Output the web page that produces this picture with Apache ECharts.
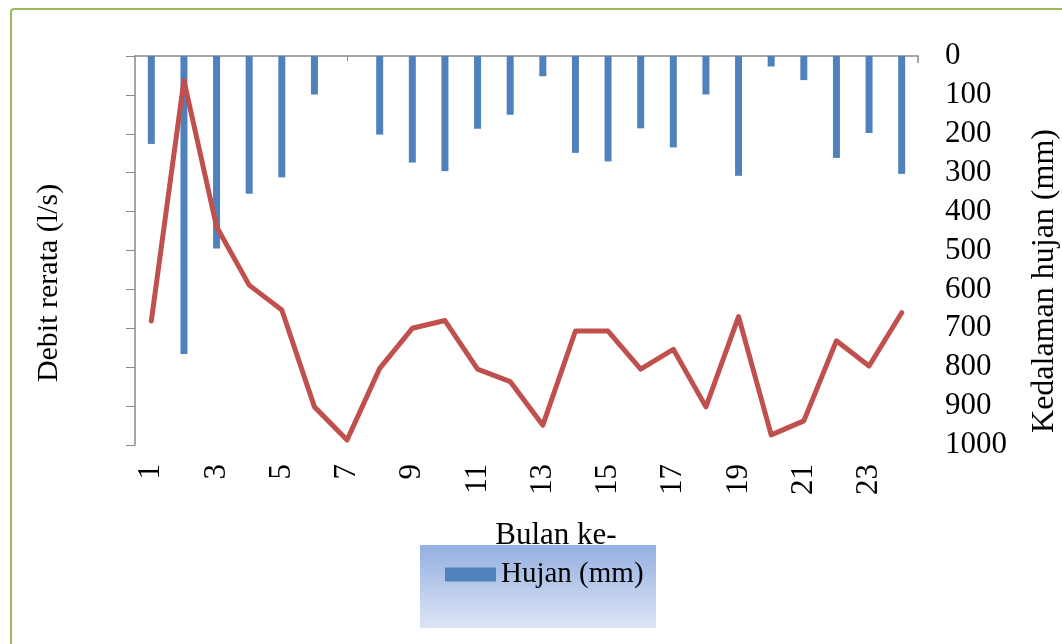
<!DOCTYPE html>
<html>
<head>
<meta charset="utf-8">
<script src="https://cdn.jsdelivr.net/npm/echarts@6/dist/echarts.min.js"></script>
<style>html,body{margin:0;padding:0;background:#fff;}#c{width:1062px;height:644px;}</style>
</head>
<body>
<div id="c"></div>
<script>
const categories = ['1','2','3','4','5','6','7','8','9','10','11','12','13','14','15','16','17','18','19','20','21','22','23','24'];
const hujan = [226,766,495,354,312,99,0,202,274,296,187,151,52,249,271,186,235,99,308,27,62,262,198,303];
const debit = [31.9,93.7,56.1,41.1,34.7,9.8,1.3,19.7,30.0,32.0,19.5,16.3,5.1,29.3,29.3,19.5,24.6,9.8,33.0,2.6,6.2,26.8,20.3,34.0];
const rightTicks = [0,100,200,300,400,500,600,700,800,900,1000];
const xTitle = 'Bulan ke-';
const leftTitle = 'Debit rerata (l/s)';
const rightTitle = 'Kedalaman hujan (mm)';

const FONT = '"Liberation Serif","Times New Roman",serif';
const chart = echarts.init(document.getElementById('c'));
chart.setOption({
  animation: false,
  backgroundColor: '#fff',
  textStyle: {fontFamily: FONT},
  grid: {left: 135, top: 56, width: 783, height: 389},
  graphic: [
    {type: 'rect', shape: {x: 11, y: 9, width: 1060, height: 640, r: 3}, style: {fill: 'none', stroke: '#9bbb59', lineWidth: 2}, z: -10},
    {type: 'rect', shape: {x: 420, y: 545, width: 236, height: 83}, style: {fill: new echarts.graphic.LinearGradient(0,0,0,1,[{offset:0,color:'#94afe0'},{offset:1,color:'#dde5f5'}])}, z: 1},
    {type: 'line', shape: {x1: 918, y1: 56, x2: 918, y2: 63}, style: {stroke: '#898989', lineWidth: 1.5}, z: 5},
    {type: 'text', x: 556, y: 536, style: {text: xTitle, font: '31px ' + FONT, fill: '#000', align: 'center', verticalAlign: 'middle'}, z: 5},
    {type: 'text', x: 49, y: 283, rotation: Math.PI / 2, style: {text: leftTitle, font: '30px ' + FONT, fill: '#000', align: 'center', verticalAlign: 'middle'}, z: 5},
    {type: 'text', x: 1045, y: 281, rotation: Math.PI / 2, style: {text: rightTitle, font: '32px ' + FONT, fill: '#000', align: 'center', verticalAlign: 'middle'}, z: 5}
  ],
  legend: {
    data: [{name: 'Hujan (mm)', icon: 'rect'}],
    left: 440, top: 555,
    itemWidth: 51, itemHeight: 14, itemGap: 4,
    textStyle: {fontFamily: FONT, fontSize: 29, color: '#000'},
    z: 10
  },
  xAxis: [
    {
      type: 'category', data: categories, position: 'bottom', boundaryGap: true,
      axisLine: {show: false}, axisTick: {show: false},
      axisLabel: {rotate: 90, interval: 1, margin: 19, fontSize: 31, fontFamily: FONT, color: '#000'}
    },
    {
      type: 'category', data: categories, position: 'top', boundaryGap: true,
      axisLine: {show: true, lineStyle: {color: '#898989', width: 1.5}},
      axisTick: {show: true, inside: true, alignWithLabel: true, length: 5, lineStyle: {color: '#898989'}},
      axisLabel: {show: false}
    }
  ],
  yAxis: [
    {
      type: 'value', min: 0, max: 100, interval: 10, position: 'left',
      axisLine: {show: true, lineStyle: {color: '#898989', width: 1.5}},
      axisTick: {show: true, length: 9, lineStyle: {color: '#898989'}},
      axisLabel: {show: false}, splitLine: {show: false}
    },
    {
      type: 'value', min: 0, max: 1000, interval: 100, inverse: true, position: 'right',
      axisLine: {show: false}, axisTick: {show: false}, splitLine: {show: false},
      axisLabel: {margin: 27, fontSize: 31, fontFamily: FONT, color: '#000', align: 'left',
        formatter: v => rightTicks.includes(v) ? String(v) : ''}
    }
  ],
  series: [
    {name: 'Hujan (mm)', type: 'bar', xAxisIndex: 0, yAxisIndex: 1, data: hujan, barWidth: 7, itemStyle: {color: '#4f81bd'}, z: 2},
    {name: 'Debit', type: 'line', xAxisIndex: 0, yAxisIndex: 0, data: debit, symbol: 'none', lineStyle: {color: '#c0504d', width: 5, join: 'round', cap: 'round'}, z: 3}
  ]
});
</script>
</body>
</html>
